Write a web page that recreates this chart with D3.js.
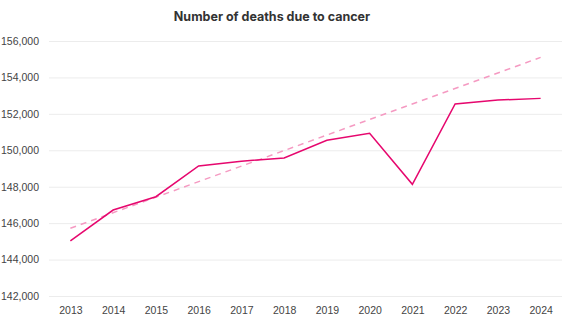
<!DOCTYPE html>
<html>
<head>
<meta charset="utf-8">
<script src="https://cdn.jsdelivr.net/npm/d3@7"></script>
<style>
  body { margin: 0; background: #fff; }
  svg { display: block; font-family: "Liberation Sans", Arial, sans-serif; }
</style>
</head>
<body>
<div class="chart"></div>
<script>
// data
var years = ["2013", "2014", "2015", "2016", "2017", "2018", "2019", "2020", "2021", "2022", "2023", "2024"];
var deaths = [145030, 146720, 147450, 149140, 149400, 149580, 150550, 150930, 148130, 152540, 152760, 152850];
var trendYears = ["2013", "2024"];
var trendValues = [145720, 155100];
var yTicks = [142000, 144000, 146000, 148000, 150000, 152000, 154000, 156000];

var svgWidth = 562;
var svgHeight = 324;
var margin = { top: 41, bottom: 28, left: 49, right: 0 };
var chartWidth = svgWidth - margin.left - margin.right;
var chartHeight = svgHeight - margin.top - margin.bottom;

var svg = d3.select(".chart")
    .append("svg")
    .attr("width", svgWidth)
    .attr("height", svgHeight);

// title
svg.append("text")
    .attr("x", 272)
    .attr("y", 21)
    .attr("text-anchor", "middle")
    .attr("font-family", "Inter, 'Noto Sans', sans-serif")
    .attr("font-size", 12.5)
    .attr("font-weight", 700)
    .attr("fill", "#333")
    .text("Number of deaths due to cancer");

var chartGroup = svg.append("g")
    .attr("transform", `translate(${margin.left}, ${margin.top})`);

var xScale = d3.scalePoint()
    .domain(years)
    .range([0, chartWidth])
    .padding(0.5);

var yScale = d3.scaleLinear()
    .domain([142000, 156000])
    .range([chartHeight, 0]);

// y axis with gridlines
var yAxis = d3.axisLeft(yScale)
    .tickValues(yTicks)
    .tickSize(-chartWidth)
    .tickPadding(10)
    .tickFormat(d3.format(",d"));

var yG = chartGroup.append("g").call(yAxis);
yG.select(".domain").remove();
yG.selectAll(".tick line").attr("stroke", "#ececec");
yG.selectAll(".tick text")
    .attr("fill", "#444")
    .attr("font-size", 10.5)
    .attr("font-family", "'Liberation Sans', Arial, sans-serif");

// x axis
var xAxis = d3.axisBottom(xScale).tickSize(0).tickPadding(11);
var xG = chartGroup.append("g")
    .attr("transform", `translate(0, ${chartHeight})`)
    .call(xAxis);
xG.select(".domain").remove();
xG.selectAll(".tick text")
    .attr("fill", "#444")
    .attr("font-size", 10.5)
    .attr("font-family", "'Liberation Sans', Arial, sans-serif");

// dashed trend line
var line = d3.line()
    .x(function(d) { return xScale(d[0]); })
    .y(function(d) { return yScale(d[1]); });

chartGroup.append("path")
    .datum(d3.zip(trendYears, trendValues))
    .attr("d", line)
    .attr("fill", "none")
    .attr("stroke", "#f59ac2")
    .attr("stroke-width", 1.5)
    .attr("stroke-dasharray", "6,5");

// main line
chartGroup.append("path")
    .datum(d3.zip(years, deaths))
    .attr("d", line)
    .attr("fill", "none")
    .attr("stroke", "#e6076e")
    .attr("stroke-width", 1.5);
</script>
</body>
</html>
